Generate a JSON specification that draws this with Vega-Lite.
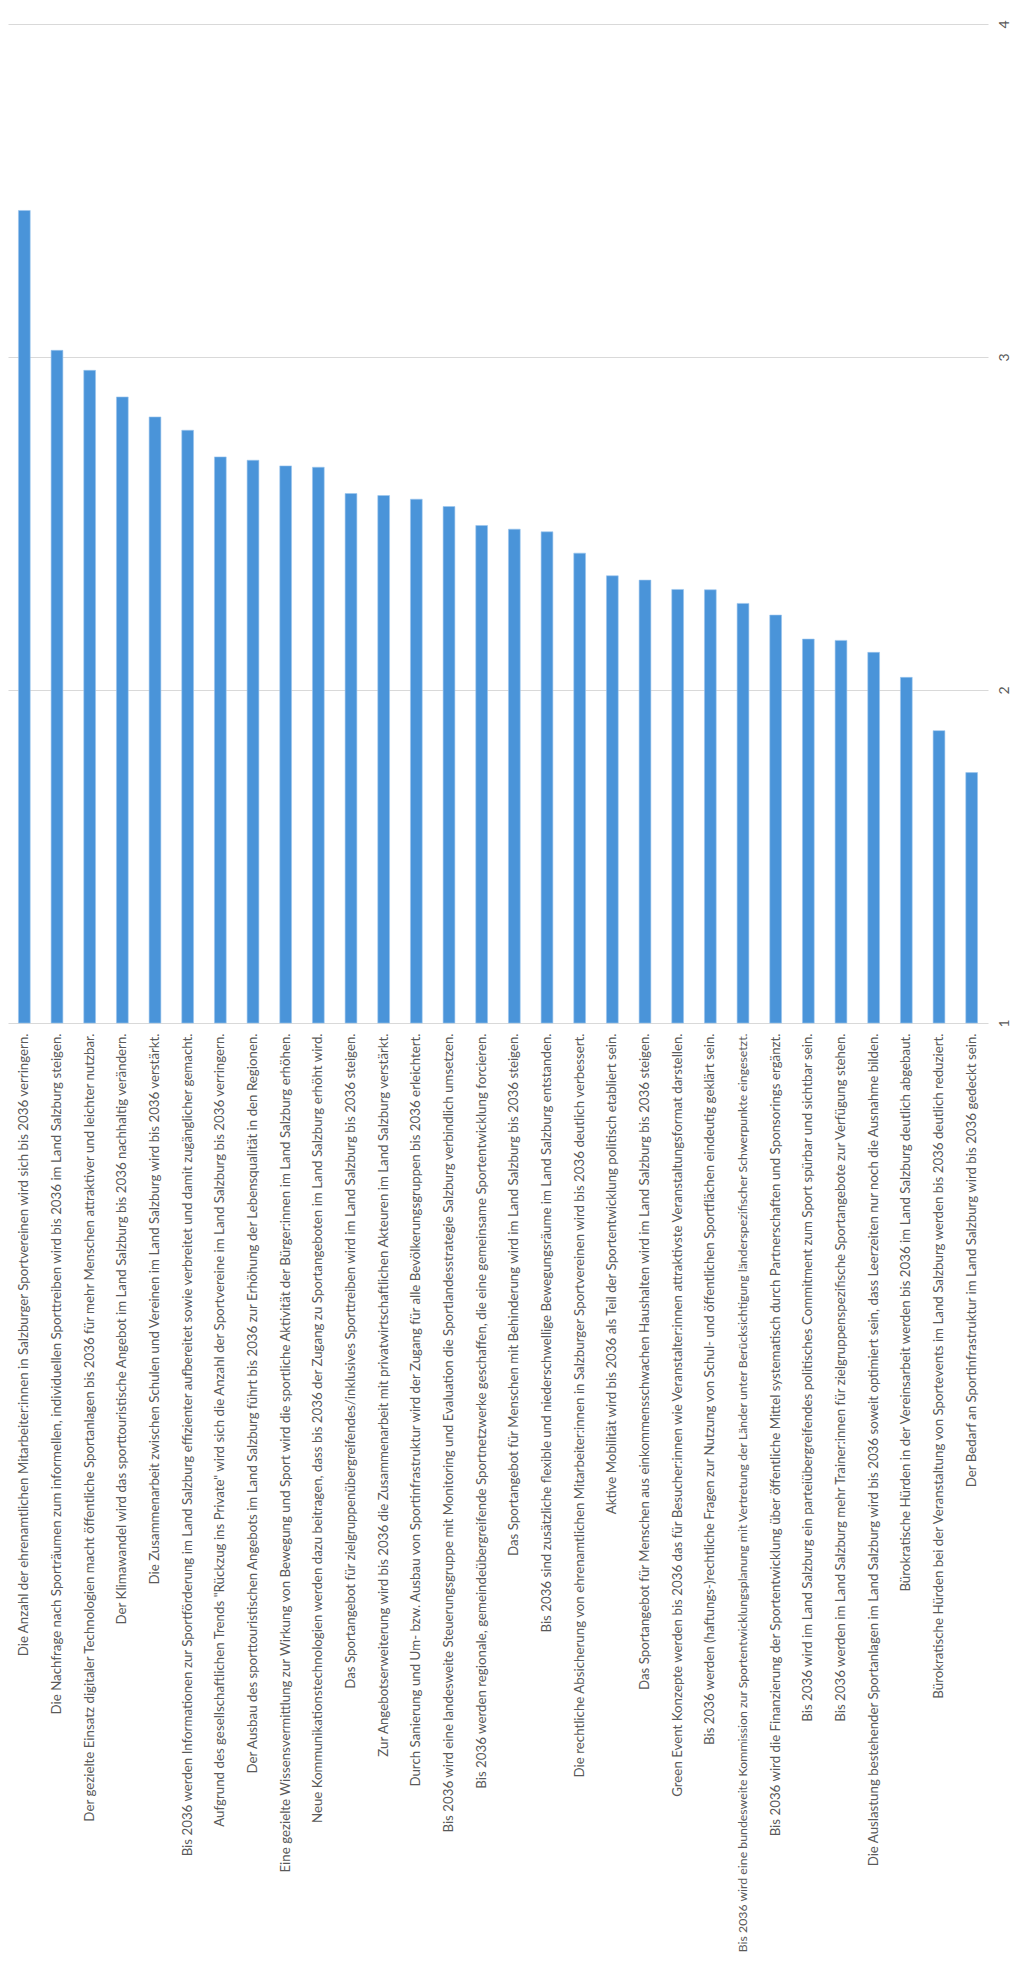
{
  "$schema": "https://vega.github.io/schema/vega-lite/v6.json",
  "width": 980,
  "height": 999,
  "padding": {"left": 8, "top": 19, "right": 0, "bottom": 0},
  "background": "white",
  "config": {"view": {"stroke": null}, "font": "Lato"},
  "data": {
    "values": [
      {"aussage": "Die Anzahl der ehrenamtlichen Mitarbeiter:innen in Salzburger Sportvereinen wird sich bis 2036 verringern.", "wert": 3.44},
      {"aussage": "Die Nachfrage nach Sporträumen zum informellen, individuellen Sporttreiben wird bis 2036 im Land Salzburg steigen.", "wert": 3.02},
      {"aussage": "Der gezielte Einsatz digitaler Technologien macht öffentliche Sportanlagen bis 2036 für mehr Menschen attraktiver und leichter nutzbar.", "wert": 2.96},
      {"aussage": "Der Klimawandel wird das sporttouristische Angebot im Land Salzburg bis 2036 nachhaltig verändern.", "wert": 2.88},
      {"aussage": "Die Zusammenarbeit zwischen Schulen und Vereinen im Land Salzburg wird bis 2036 verstärkt.", "wert": 2.82},
      {"aussage": "Bis 2036 werden Informationen zur Sportförderung im Land Salzburg effizienter aufbereitet sowie verbreitet und damit zugänglicher gemacht.", "wert": 2.78},
      {"aussage": "Aufgrund des gesellschaftlichen Trends \"Rückzug ins Private\" wird sich die Anzahl der Sportvereine im Land Salzburg bis 2036 verringern.", "wert": 2.70},
      {"aussage": "Der Ausbau des sporttouristischen Angebots im Land Salzburg führt bis 2036 zur Erhöhung der Lebensqualität in den Regionen.", "wert": 2.69},
      {"aussage": "Eine gezielte Wissensvermittlung zur Wirkung von Bewegung und Sport wird die sportliche Aktivität der Bürger:innen im Land Salzburg erhöhen.", "wert": 2.673},
      {"aussage": "Neue Kommunikationstechnologien werden dazu beitragen, dass bis 2036 der Zugang zu Sportangeboten im Land Salzburg erhöht wird.", "wert": 2.669},
      {"aussage": "Das Sportangebot für zielgruppenübergreifendes/inklusives Sporttreiben wird im Land Salzburg bis 2036 steigen.", "wert": 2.59},
      {"aussage": "Zur Angebotserweiterung wird bis 2036 die Zusammenarbeit mit privatwirtschaftlichen Akteuren im Land Salzburg verstärkt.", "wert": 2.584},
      {"aussage": "Durch Sanierung und Um- bzw. Ausbau von Sportinfrastruktur wird der Zugang für alle Bevölkerungsgruppen bis 2036 erleichtert.", "wert": 2.573},
      {"aussage": "Bis 2036 wird eine landesweite Steuerungsgruppe mit Monitoring und Evaluation die Sportlandesstrategie Salzburg verbindlich umsetzen.", "wert": 2.551},
      {"aussage": "Bis 2036 werden regionale, gemeindeübergreifende Sportnetzwerke geschaffen, die eine gemeinsame Sportentwicklung forcieren.", "wert": 2.494},
      {"aussage": "Das Sportangebot für Menschen mit Behinderung wird im Land Salzburg bis 2036 steigen.", "wert": 2.483},
      {"aussage": "Bis 2036 sind zusätzliche flexible und niederschwellige Bewegungsräume im Land Salzburg entstanden.", "wert": 2.475},
      {"aussage": "Die rechtliche Absicherung von ehrenamtlichen Mitarbeiter:innen in Salzburger Sportvereinen wird bis 2036 deutlich verbessert.", "wert": 2.411},
      {"aussage": "Aktive Mobilität wird bis 2036 als Teil der Sportentwicklung politisch etabliert sein.", "wert": 2.343},
      {"aussage": "Das Sportangebot für Menschen aus einkommensschwachen Haushalten wird im Land Salzburg bis 2036 steigen.", "wert": 2.33},
      {"aussage": "Green Event Konzepte werden bis 2036 das für Besucher:innen wie Veranstalter:innen attraktivste Veranstaltungsformat darstellen.", "wert": 2.302},
      {"aussage": "Bis 2036 werden (haftungs-)rechtliche Fragen zur Nutzung von Schul- und öffentlichen Sportflächen eindeutig geklärt sein.", "wert": 2.301},
      {"aussage": "Bis 2036 wird eine bundesweite Kommission zur Sportentwicklungsplanung mit Vertretung der Länder unter Berücksichtigung länderspezifischer Schwerpunkte eingesetzt.", "wert": 2.26},
      {"aussage": "Bis 2036 wird die Finanzierung der Sportentwicklung über öffentliche Mittel systematisch durch Partnerschaften und Sponsorings ergänzt.", "wert": 2.225},
      {"aussage": "Bis 2036 wird im Land Salzburg ein parteiübergreifendes politisches Commitment zum Sport spürbar und sichtbar sein.", "wert": 2.153},
      {"aussage": "Bis 2036 werden im Land Salzburg mehr Trainer:innen für zielgruppenspezifische Sportangebote zur Verfügung stehen.", "wert": 2.149},
      {"aussage": "Die Auslastung bestehender Sportanlagen im Land Salzburg wird bis 2036 soweit optimiert sein, dass Leerzeiten nur noch die Ausnahme bilden.", "wert": 2.113},
      {"aussage": "Bürokratische Hürden in der Vereinsarbeit werden bis 2036 im Land Salzburg deutlich abgebaut.", "wert": 2.038},
      {"aussage": "Bürokratische Hürden bei der Veranstaltung von Sportevents im Land Salzburg werden bis 2036 deutlich reduziert.", "wert": 1.878},
      {"aussage": "Der Bedarf an Sportinfrastruktur im Land Salzburg wird bis 2036 gedeckt sein.", "wert": 1.752}
    ]
  },
  "mark": {"type": "bar", "color": "#4a94d9", "stroke": "#9cc6ee", "strokeWidth": 0.6},
  "encoding": {
    "x": {
      "field": "aussage",
      "type": "nominal",
      "sort": null,
      "scale": {"paddingInner": 0.64, "paddingOuter": 0.32},
      "axis": {
        "title": null,
        "labelAngle": -90,
        "labelLimit": 1100,
        "labelFont": "Lato",
        "labelFontSize": {"condition": {"test": "indexof(datum.value, 'bundesweite') >= 0", "value": 12.3}, "value": 13.3},
        "labelColor": "#595959",
        "labelPadding": 10,
        "ticks": false,
        "domain": false
      }
    },
    "y": {
      "field": "wert",
      "type": "quantitative",
      "scale": {"domain": [1, 4], "zero": false, "nice": false},
      "axis": {
        "title": null,
        "orient": "right",
        "values": [1, 2, 3, 4],
        "format": "d",
        "labelAngle": -90,
        "labelAlign": "center",
        "labelBaseline": "top",
        "labelFont": "Lato",
        "labelFontSize": 14,
        "labelColor": "#595959",
        "labelPadding": 9,
        "ticks": false,
        "domain": false,
        "grid": true,
        "gridColor": "#d9d9d9",
        "gridWidth": 1
      }
    },
    "y2": {"datum": 1}
  }
}
